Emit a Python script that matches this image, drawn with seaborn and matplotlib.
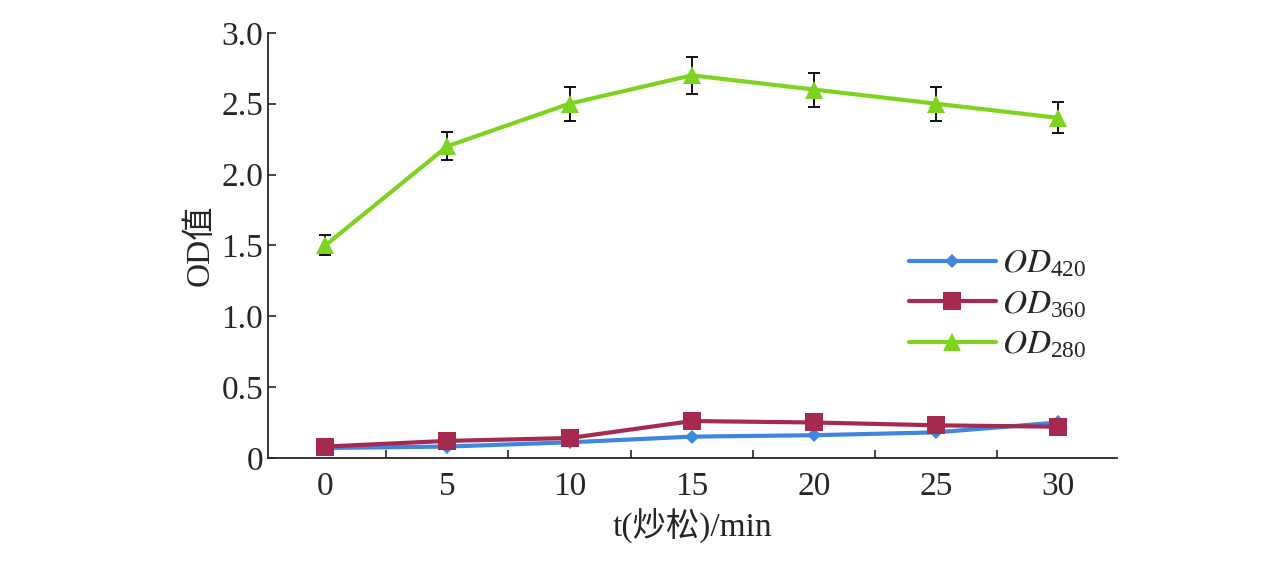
import numpy as np
import pandas as pd
import seaborn as sns
import matplotlib.pyplot as plt
from matplotlib.ticker import MultipleLocator

sns.set_theme(style='ticks')
plt.rcParams['font.family'] = ['Liberation Serif', 'Noto Sans CJK SC']
plt.rcParams['mathtext.fontset'] = 'stix'

times = [0, 5, 10, 15, 20, 25, 30]
od420 = [0.07, 0.08, 0.11, 0.15, 0.16, 0.18, 0.25]
od360 = [0.08, 0.12, 0.14, 0.26, 0.25, 0.23, 0.22]
od280 = [1.5, 2.2, 2.5, 2.7, 2.6, 2.5, 2.4]
od280_err = [0.07, 0.1, 0.12, 0.13, 0.12, 0.12, 0.11]

df = pd.DataFrame({'t': times * 3,
                   'od': od420 + od360 + od280,
                   'series': ['420'] * 7 + ['360'] * 7 + ['280'] * 7})

fig = plt.figure(figsize=(12.76, 5.66), dpi=100)
ax = fig.add_axes([0.21, 0.191, 0.665, 0.751])

styles = {'420': ('#3f86e0', 'D', 7), '360': ('#a62a50', 's', 13), '280': ('#7ed321', '^', 13)}
for key, (color, marker, ms) in styles.items():
    sub = df[df['series'] == key]
    sns.lineplot(data=sub, x='t', y='od', ax=ax, color=color, marker=marker,
                 markersize=ms, markeredgewidth=0, linewidth=3,
                 label=r'$OD_{\mathregular{%s}}$' % key)

ax.errorbar(times, od280, yerr=od280_err, fmt='none', ecolor='black',
            elinewidth=1.3, capsize=4, capthick=1.3, zorder=1)

ax.set_xlim(-2.35, 32.4)
ax.set_ylim(0, 3.0)
ax.xaxis.set_major_locator(MultipleLocator(5))
ax.xaxis.set_minor_locator(MultipleLocator(2.5))
ax.set_yticks(np.arange(0, 3.01, 0.5))
ax.set_yticklabels(['0', '0.5', '1.0', '1.5', '2.0', '2.5', '3.0'])
ax.tick_params(axis='both', which='both', direction='in', labelsize=24, width=1.2)
ax.tick_params(axis='x', which='major', length=0, pad=10)
ax.tick_params(axis='x', which='minor', length=6)
ax.tick_params(axis='y', length=6)
sns.despine(ax=ax)
for s in ['left', 'bottom']:
    ax.spines[s].set_linewidth(1.3)

ax.set_xlabel('t(炒松)/min', fontsize=24)
ax.set_ylabel('OD值', fontsize=24)

ax.legend(loc='center right', bbox_to_anchor=(1.0, 0.36), frameon=False,
          fontsize=24, handlelength=2.6, handletextpad=0.2, labelspacing=0.3)

fig.savefig('out.png', dpi=100)
